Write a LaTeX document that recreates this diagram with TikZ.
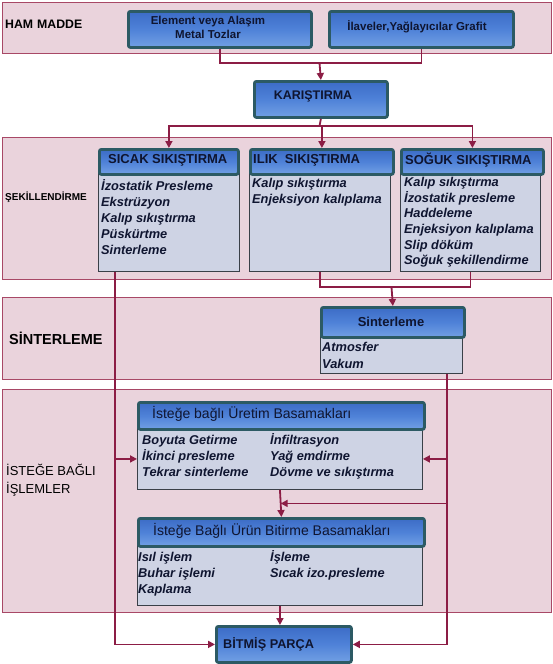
\documentclass[tikz,border=0pt]{standalone}
\usepackage{fontspec}
\setmainfont{Liberation Sans}
\usetikzlibrary{arrows.meta,calc}
\definecolor{bandfill}{HTML}{EAD3DC}
\definecolor{bandline}{HTML}{A84866}
\definecolor{connc}{HTML}{8C1D45}
\definecolor{hdrline}{HTML}{2C5A64}
\definecolor{hdrtop}{HTML}{3C6CC6}
\definecolor{hdrmid}{HTML}{4F82D8}
\definecolor{hdrbot}{HTML}{72A0E4}
\definecolor{bodyfill}{HTML}{CED3E4}
\definecolor{bodyline}{HTML}{3A4048}
\definecolor{txt}{HTML}{0F1530}
\tikzset{
  band/.style={draw=bandline, line width=1pt, fill=bandfill},
  hdr/.style={draw=hdrline, line width=2.8pt, rounded corners=2pt, top color=hdrtop, bottom color=hdrbot, middle color=hdrmid, inner sep=0pt, anchor=north west},
  bodybox/.style={draw=bodyline, line width=0.9pt, fill=bodyfill, inner sep=0pt, anchor=north west},
  conn/.style={draw=connc, line width=1.8pt},
  arr/.style={conn, -{Triangle[length=7pt,width=7pt]}},
  items/.style={font=\fontsize{12.8pt}{16pt}\selectfont\bfseries\itshape, text=txt, align=left, anchor=north west, inner sep=0pt},
  htxt/.style={text=txt, inner sep=0pt},
  lbl/.style={text=black, inner sep=0pt, anchor=west},
}
\newcommand{\fl}{\rule{0pt}{11.5pt}}
\begin{document}
\begin{tikzpicture}[x=1pt,y=-1pt]
\useasboundingbox (0,0) rectangle (552,664);
\fill[white] (0,0) rectangle (552,664);
% bands
\draw[band] (2,2) rectangle (551,53);
\draw[band] (2,137) rectangle (551,279);
\draw[band] (2,297) rectangle (551,379);
\draw[band] (2,389) rectangle (551,612);
% band labels
\node[lbl, font=\bfseries\fontsize{12.3pt}{14pt}\selectfont] (hamT) at (5,24) {HAM\hspace{4pt}MADDE};
\node[lbl, font=\bfseries\fontsize{10pt}{12pt}\selectfont] (sekT) at (5,197) {ŞEKİLLENDİRME};
\node[lbl, font=\bfseries\fontsize{14.5pt}{17pt}\selectfont] (sinT) at (9,338) {SİNTERLEME};
\node[lbl, font=\fontsize{13pt}{18pt}\selectfont, align=left] (istT) at (6,480) {İSTEĞE BAĞLI\\İŞLEMLER};
% raw material
\node[hdr, minimum width=183pt, minimum height=36pt] (elem) at (127,10) {};
\node[htxt, font=\bfseries\fontsize{11.5pt}{14pt}\selectfont, align=center] (elemT) at (208,27) {Element veya Alaşım\\Metal Tozlar};
\node[hdr, minimum width=184pt, minimum height=36pt] (ilave) at (328,10) {};
\node[htxt, font=\bfseries\fontsize{11.5pt}{14pt}\selectfont] (ilaveT) at (417,27) {İlaveler,Yağlayıcılar Grafit};
\node[hdr, minimum width=133pt, minimum height=36pt] (kar) at (253,80) {};
\node[htxt, font=\bfseries\fontsize{12.5pt}{14pt}\selectfont] (karT) at (313,96) {KARIŞTIRMA};
% shaping
\node[bodybox, minimum width=141pt, minimum height=98pt] (sicakB) at (98,173) {};
\node[hdr, minimum width=139pt, minimum height=25pt] (sicakH) at (98,148) {};
\node[htxt, lbl, text=txt, font=\bfseries\fontsize{13pt}{15pt}\selectfont] (sicakT) at (108,160) {SICAK SIKIŞTIRMA};
\node[items] (sicakL) at (101,179) {\fl İzostatik Presleme\\Ekstrüzyon\\Kalıp sıkıştırma\\Püskürtme\\Sinterleme};
\node[bodybox, minimum width=141pt, minimum height=98pt] (ilikB) at (249,173) {};
\node[hdr, minimum width=143pt, minimum height=25pt] (ilikH) at (249,148) {};
\node[htxt, lbl, text=txt, font=\bfseries\fontsize{13pt}{15pt}\selectfont] (ilikT) at (253,160) {ILIK\ \ SIKIŞTIRMA};
\node[items] (ilikL) at (252,176) {\fl Kalıp sıkıştırma\\Enjeksiyon kalıplama};
\node[bodybox, minimum width=140pt, minimum height=98pt] (sogukB) at (400,173) {};
\node[hdr, minimum width=142pt, minimum height=25pt] (sogukH) at (400,148) {};
\node[htxt, lbl, text=txt, font=\bfseries\fontsize{13pt}{15pt}\selectfont] (sogukT) at (405,160) {SOĞUK SIKIŞTIRMA};
\node[items, font=\fontsize{12.8pt}{15.6pt}\selectfont\bfseries\itshape] (sogukL) at (404,175) {\fl Kalıp sıkıştırma\\İzostatik presleme\\Haddeleme\\Enjeksiyon kalıplama\\Slip döküm\\Soğuk şekillendirme};
% sintering
\node[bodybox, minimum width=142pt, minimum height=37pt] (sintB) at (320,336) {};
\node[hdr, minimum width=143pt, minimum height=30pt] (sintH) at (320,306) {};
\node[htxt, font=\bfseries\fontsize{13pt}{15pt}\selectfont] (sintT) at (391,322) {Sinterleme};
\node[items, font=\fontsize{12.8pt}{17pt}\selectfont\bfseries\itshape] (sintL) at (322,340) {\fl Atmosfer\\Vakum};
% optional
\node[bodybox, minimum width=285pt, minimum height=61pt] (uretB) at (137,428) {};
\node[hdr, minimum width=286pt, minimum height=27pt] (uretH) at (137,401) {};
\node[htxt, lbl, text=txt, font=\fontsize{14pt}{16pt}\selectfont] (uretT) at (152,414) {İsteğe bağlı Üretim Basamakları};
\node[items] (uretL) at (142,433) {\fl Boyuta Getirme\\İkinci presleme\\Tekrar sinterleme};
\node[items] (uretR) at (270,433) {\fl İnfiltrasyon\\Yağ emdirme\\Dövme ve sıkıştırma};
\node[bodybox, minimum width=285pt, minimum height=60pt] (bitB) at (137,545) {};
\node[hdr, minimum width=286pt, minimum height=28pt] (bitH) at (137,517) {};
\node[htxt, lbl, text=txt, font=\fontsize{14pt}{16pt}\selectfont] (bitT) at (153,531) {İsteğe Bağlı Ürün Bitirme Basamakları};
\node[items] (bitL) at (138,550) {\fl Isıl işlem\\Buhar işlemi\\Kaplama};
\node[items] (bitR) at (270,550) {\fl İşleme\\Sıcak izo.presleme};
% final
\node[hdr, minimum width=135pt, minimum height=36pt] (bitmis) at (215,625) {};
\node[htxt, lbl, text=txt, font=\bfseries\fontsize{12.7pt}{14pt}\selectfont] (bitmisT) at (223,644) {BİTMİŞ PARÇA};
% connectors
\coordinate (j1) at (319.5,63);
\draw[conn] (elem.south) |- (j1) -| (ilave.south);
\draw[arr] (j1) -- (kar.north);
\coordinate (j2) at (319.5,126);
\draw[conn] (kar.south) -- (j2);
\draw[arr] (j2) -| (sicakH.north);
\draw[arr] (j2) -| (ilikH.north);
\draw[arr] (j2) -| (sogukH.north);
\coordinate (j3) at (391.5,287);
\draw[conn] (ilikB.south) |- (j3) -| (sogukB.south);
\draw[arr] (j3) -- (sintH.north);
\coordinate (L0) at ([xshift=17pt]sicakB.south west);
\coordinate (R0) at ([xshift=-16pt]sintB.south east);
\draw[arr] (L0) |- (bitmis.west);
\draw[arr] (R0) |- (bitmis.east);
\draw[arr] (uretB.west -| L0) -- (uretB.west);
\draw[arr] (uretB.east -| R0) -- (uretB.east);
\draw[arr] (uretB.south) -- (bitH.north);
\coordinate (m) at ($(uretB.south)!0.5!(bitH.north)$);
\draw[arr] (m -| R0) -- (m);
\draw[arr] (bitB.south) -- (bitB.south |- bitmis.north);
\end{tikzpicture}
\end{document}
